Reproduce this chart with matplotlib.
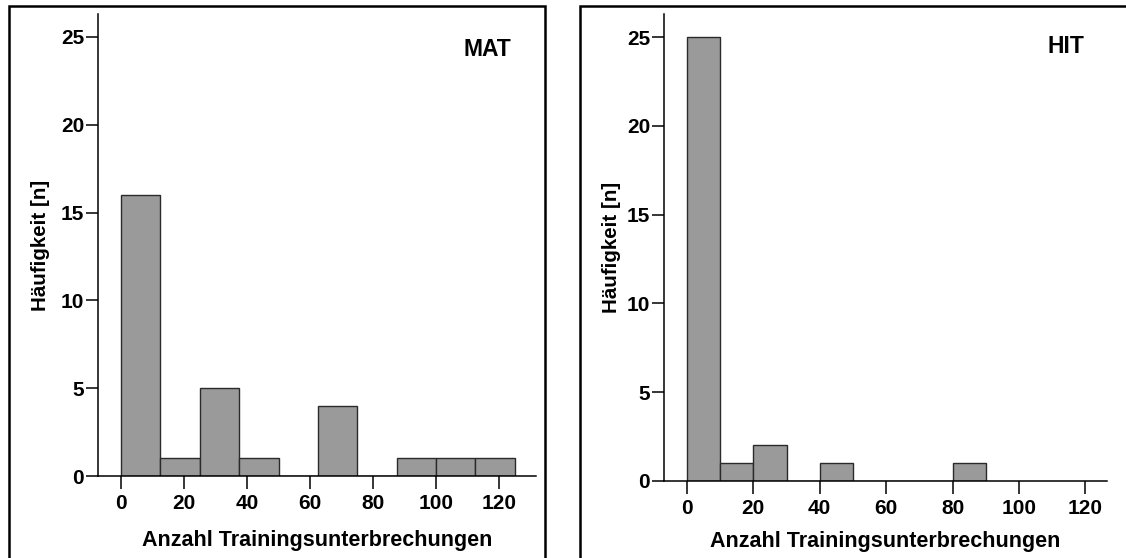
import matplotlib
matplotlib.use("Agg")
import matplotlib.pyplot as plt
from matplotlib.patches import Rectangle

# MAT group: bins of width 12.5
mat_edges = [0, 12.5, 25, 37.5, 50, 62.5, 75, 87.5, 100, 112.5, 125]
mat_counts = [16, 1, 5, 1, 0, 4, 0, 1, 1, 1]

# HIT group: bins of width 10
hit_edges = [0, 10, 20, 30, 40, 50, 60, 70, 80, 90]
hit_counts = [25, 1, 2, 0, 1, 0, 0, 0, 1]

x_ticks = [0, 20, 40, 60, 80, 100, 120]
y_ticks = [0, 5, 10, 15, 20, 25]
xlabel = "Anzahl Trainingsunterbrechungen"
ylabel = "Häufigkeit [n]"

plt.rcParams["font.family"] = ["Liberation Sans", "DejaVu Sans"]
plt.rcParams["font.weight"] = "bold"

W, H = 1126, 558
fig = plt.figure(figsize=(W / 100, H / 100), dpi=100)


def px_axes(left, right, bottom_from_top, top_from_top):
    return fig.add_axes([left / W, (H - bottom_from_top) / H,
                         (right - left) / W, (bottom_from_top - top_from_top) / H])


def draw(ax, edges, counts, xlim, name, name_xy, ylab_x, xlab_y):
    widths = [edges[i + 1] - edges[i] for i in range(len(counts))]
    ax.bar(edges[:-1], counts, width=widths, align="edge",
           color="#9a9a9a", edgecolor="#2a2a2a", linewidth=1.0, zorder=2)
    ax.set_xlim(*xlim)
    ax.set_ylim(0, 26.3)
    ax.set_xticks(x_ticks)
    ax.set_yticks(y_ticks)
    for s in ("top", "right"):
        ax.spines[s].set_visible(False)
    for s in ("left", "bottom"):
        ax.spines[s].set_linewidth(1.1)
    ax.tick_params(axis="both", length=9, width=1.1, labelsize=15)
    ax.tick_params(axis="x", pad=4)
    ax.tick_params(axis="y", pad=1)
    for lab in ax.get_xticklabels() + ax.get_yticklabels():
        lab.set_fontweight("bold")
    ax.set_xlabel(xlabel, fontsize=15.5, fontweight="bold")
    ax.set_ylabel(ylabel, fontsize=14.8, fontweight="bold")
    ax.xaxis.set_label_coords(0.5, xlab_y)
    ax.yaxis.set_label_coords(ylab_x, 0.5)
    ax.text(name_xy[0], name_xy[1], name, transform=ax.transAxes,
            ha="center", va="center", fontsize=16.5, fontweight="bold")


ax1 = px_axes(98, 536, 476, 14)
draw(ax1, mat_edges, mat_counts, (-7.3, 131.7), "MAT", (0.888, 0.924), -0.11, -0.117)

ax2 = px_axes(664, 1107, 481, 14)
draw(ax2, hit_edges, hit_counts, (-6.9, 126.5), "HIT", (0.907, 0.931), -0.097, -0.107)

# panel frames
for x0, x1 in [(9, 545), (580, 1140)]:
    fig.add_artist(Rectangle((x0 / W, -0.05), (x1 - x0) / W, (H - 6) / H + 0.05,
                             transform=fig.transFigure, fill=False,
                             edgecolor="black", linewidth=1.8, clip_on=False))

fig.savefig("out.png", dpi=100)
